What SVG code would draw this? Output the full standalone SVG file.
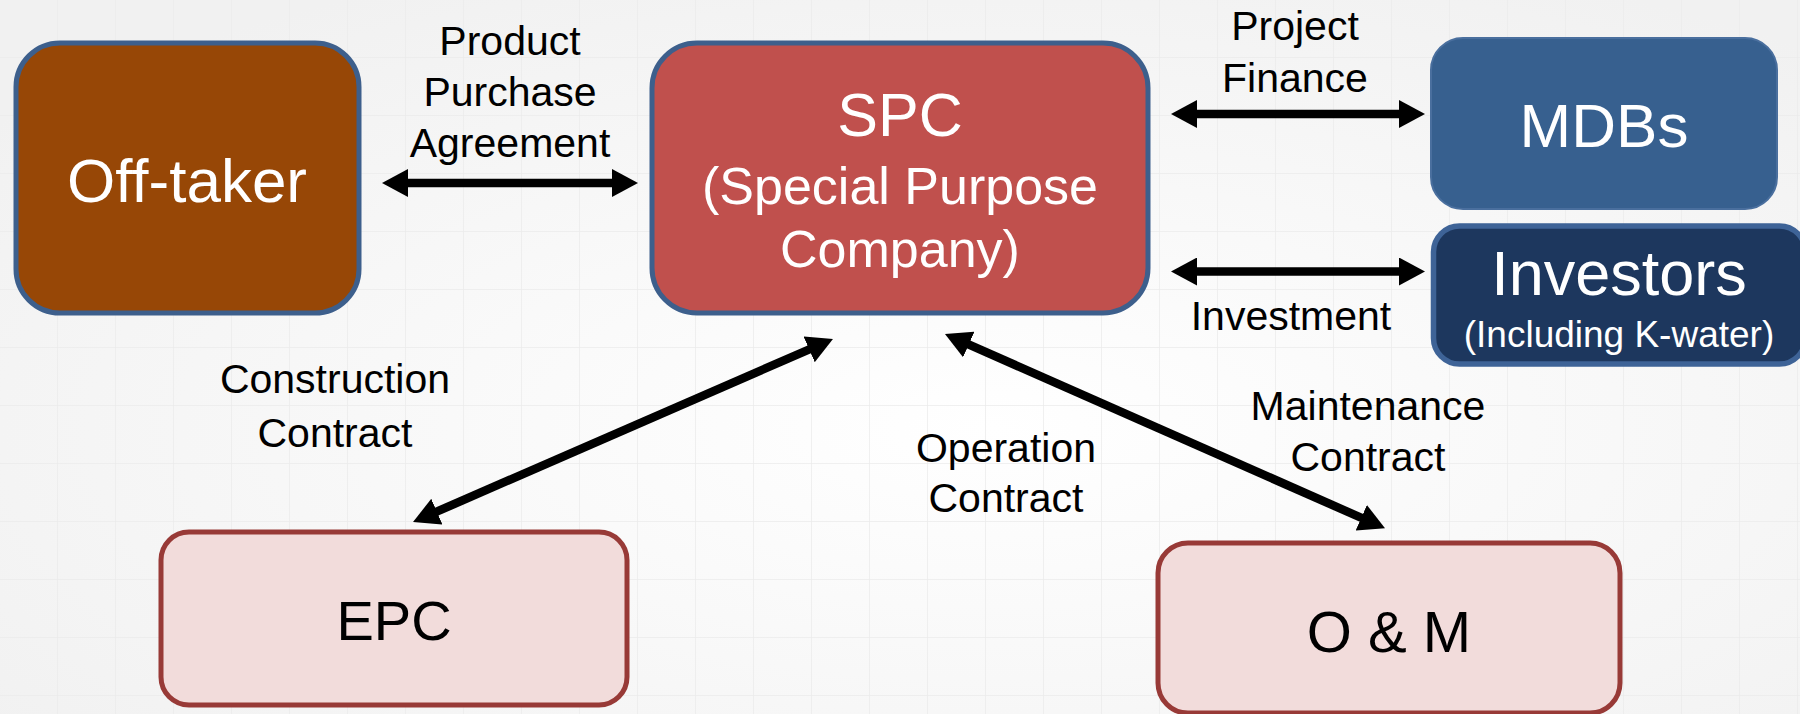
<svg xmlns="http://www.w3.org/2000/svg" width="1800" height="714" viewBox="0 0 1800 714">
<defs>
<pattern id="grid" width="58" height="58" patternUnits="userSpaceOnUse">
<path d="M58 0 V58 M0 58 H58" fill="none" stroke="#ebebeb" stroke-width="1.5"/>
</pattern>
<radialGradient id="bgg" cx="0.55" cy="0.6" r="0.7">
<stop offset="0" stop-color="#ffffff"/>
<stop offset="1" stop-color="#f1f1f1"/>
</radialGradient>
<marker id="ah" markerUnits="userSpaceOnUse" markerWidth="27" markerHeight="28" refX="4" refY="14" orient="auto-start-reverse" viewBox="0 0 27 28">
<path d="M0 0 L26 14 L0 28 Z" fill="#000"/>
</marker>
<style>
.lbl{font-family:"Liberation Sans",Arial,sans-serif;font-size:41px;fill:#000;text-anchor:middle}
.wt{font-family:"Liberation Sans",Arial,sans-serif;fill:#fff;text-anchor:middle}
.bt{font-family:"Liberation Sans",Arial,sans-serif;fill:#000;text-anchor:middle}
.conn{stroke:#000;stroke-width:8.5;fill:none;marker-start:url(#ah);marker-end:url(#ah)}
.pink{fill:#f2dcdb;stroke:#983a37;stroke-width:5}
</style>
</defs>
<rect width="1800" height="714" fill="url(#bgg)"/>
<rect width="1800" height="714" fill="url(#grid)"/>

<g id="offtaker">
<rect x="16" y="43" width="343" height="270" rx="44" fill="#974706" stroke="#3d5f8c" stroke-width="5"/>
<text class="wt" x="187" y="202" font-size="62">Off-taker</text>
</g>
<g id="spc">
<rect x="652" y="43" width="496" height="270" rx="45" fill="#c0504d" stroke="#3d5f8c" stroke-width="5"/>
<text class="wt" x="900" y="136" font-size="61">SPC</text>
<text class="wt" x="900" y="204" font-size="52">(Special Purpose</text>
<text class="wt" x="900" y="267" font-size="52">Company)</text>
</g>
<g id="mdbs">
<rect x="1431" y="38" width="346" height="171" rx="32" fill="#37608f" stroke="#4a6f9e" stroke-width="2"/>
<text class="wt" x="1604" y="147" font-size="62">MDBs</text>
</g>
<g id="investors">
<rect x="1433.5" y="226" width="372" height="138" rx="26" fill="#1d375e" stroke="#3e6397" stroke-width="5.5"/>
<text class="wt" x="1619" y="295" font-size="63">Investors</text>
<text class="wt" x="1619" y="347" font-size="37">(Including K-water)</text>
</g>
<g id="epc">
<rect x="161" y="532" width="466" height="173" rx="28" class="pink"/>
<text class="bt" x="394" y="640" font-size="56">EPC</text>
</g>
<g id="om">
<rect x="1158" y="543" width="462" height="170" rx="30" class="pink"/>
<text class="bt" x="1389" y="652" font-size="58">O &amp; M</text>
</g>

<g id="connectors">
<line class="conn" x1="404" y1="183" x2="616" y2="183"/>
<line class="conn" x1="1193" y1="114" x2="1403" y2="114"/>
<line class="conn" x1="1193" y1="271.5" x2="1403" y2="271.5"/>
<line class="conn" x1="433.2" y1="513.2" x2="812.8" y2="347.8"/>
<line class="conn" x1="965.1" y1="342.9" x2="1364.9" y2="519.4"/>
</g>

<g id="labels">
<text class="lbl" x="510" y="55">Product</text>
<text class="lbl" x="510" y="106">Purchase</text>
<text class="lbl" x="510" y="157">Agreement</text>
<text class="lbl" x="1295" y="40">Project</text>
<text class="lbl" x="1295" y="92">Finance</text>
<text class="lbl" x="1291" y="330">Investment</text>
<text class="lbl" x="335" y="393">Construction</text>
<text class="lbl" x="335" y="447">Contract</text>
<text class="lbl" x="1006" y="462">Operation</text>
<text class="lbl" x="1006" y="512">Contract</text>
<text class="lbl" x="1368" y="420">Maintenance</text>
<text class="lbl" x="1368" y="471">Contract</text>
</g>
</svg>
